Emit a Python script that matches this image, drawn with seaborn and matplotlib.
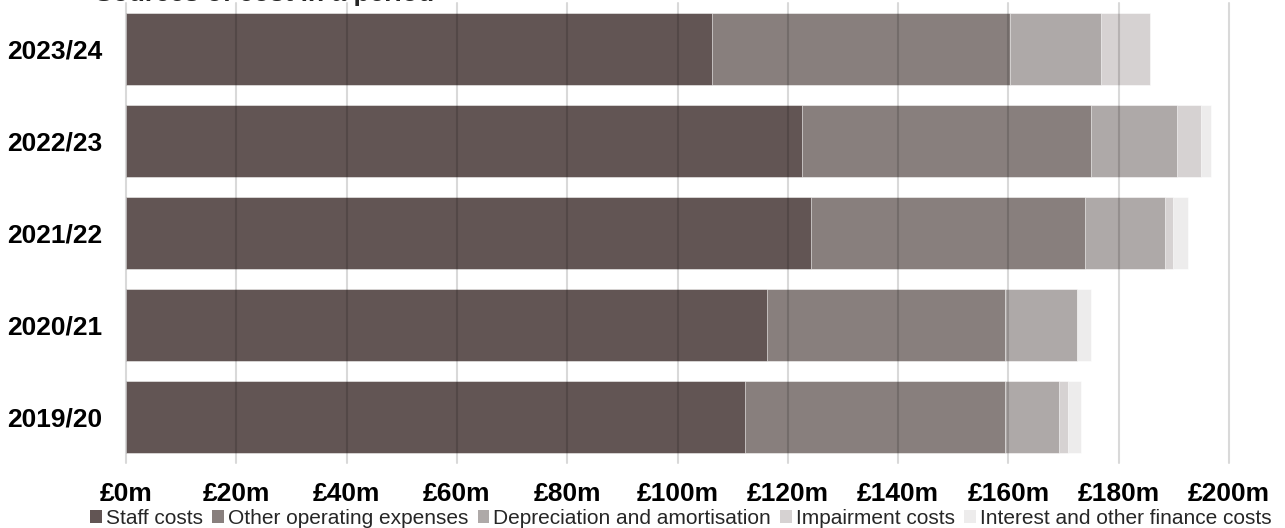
import numpy as np
import pandas as pd
import matplotlib
matplotlib.use("Agg")
import matplotlib.pyplot as plt
from matplotlib import font_manager
from matplotlib.patches import Patch
import seaborn as sns

# Financial years, top to bottom
years = ["2023/24", "2022/23", "2021/22", "2020/21", "2019/20"]

# Cost components (£m)
staff_costs = [106.3, 122.5, 124.2, 116.3, 112.3]
other_operating = [54.0, 52.5, 49.7, 43.1, 47.1]
depreciation = [16.4, 15.5, 14.5, 13.0, 9.8]
impairment = [8.9, 4.5, 1.4, 0.0, 1.6]
interest_finance = [0.0, 1.8, 2.7, 2.6, 2.3]

series_names = [
    "Staff costs",
    "Other operating expenses",
    "Depreciation and amortisation",
    "Impairment costs",
    "Interest and other finance costs",
]
series_values = [staff_costs, other_operating, depreciation, impairment, interest_finance]
colors = ["#625554", "#887f7d", "#aea9a8", "#d6d2d2", "#edecec"]

x_ticks = [0, 20, 40, 60, 80, 100, 120, 140, 160, 180, 200]
x_tick_labels = [f"£{v}m" for v in x_ticks]

title = "Sources of cost in a period"

df = pd.DataFrame({"year": years})
for name, vals in zip(series_names, series_values):
    df[name] = vals
cum = df[series_names].cumsum(axis=1)
cum["year"] = years

sns.set_theme(style="white")
available = {f.name for f in font_manager.fontManager.ttflist}
base_font = "Liberation Sans" if "Liberation Sans" in available else "DejaVu Sans"
plt.rcParams["font.family"] = [base_font, "DejaVu Sans"]

fig = plt.figure(figsize=(12.85, 5.28), dpi=100)
ax = fig.add_axes([126 / 1285, 65 / 528, 1103 / 1285, 460 / 528])

# Stacked bars: draw running totals from the longest down so each
# segment shows through behind the next one
for name, color in reversed(list(zip(series_names, colors))):
    sns.barplot(data=cum, x=name, y="year", order=years, orient="h",
                color=color, width=0.79, saturation=1, ax=ax,
                edgecolor="white", linewidth=0.4, zorder=2)

ax.set_xlim(0, 200)
ax.set_ylim(4.5, -0.5)
ax.set_xticks(x_ticks)
ax.set_xticklabels(x_tick_labels, fontsize=19, fontweight="bold", color="black")
ax.tick_params(axis="x", length=0, pad=14)
ax.tick_params(axis="y", length=0, pad=17, labelsize=19)
for lbl in ax.get_yticklabels():
    lbl.set_fontweight("bold")
    lbl.set_color("black")
ax.set_xlabel("")
ax.set_ylabel("")
for s in ax.spines.values():
    s.set_visible(False)

# Vertical gridlines drawn over the bars
for v in x_ticks:
    ax.axvline(v, color="black", alpha=0.15, linewidth=1.5, zorder=5, clip_on=False)

handles = [Patch(facecolor=c, edgecolor="none") for c in colors]
fig.legend(handles, series_names, loc="lower center", ncol=5,
           bbox_to_anchor=(681 / 1285, -0.024), frameon=False,
           prop={"family": base_font, "size": 15},
           handlelength=0.55, handleheight=0.6, handletextpad=0.2,
           columnspacing=0.45, borderpad=0.1)

fig.text(95 / 1285, 1 - 1.5 / 528, title, fontsize=19, fontweight="bold",
         ha="left", va="baseline")

fig.savefig("out.png", dpi=100)
